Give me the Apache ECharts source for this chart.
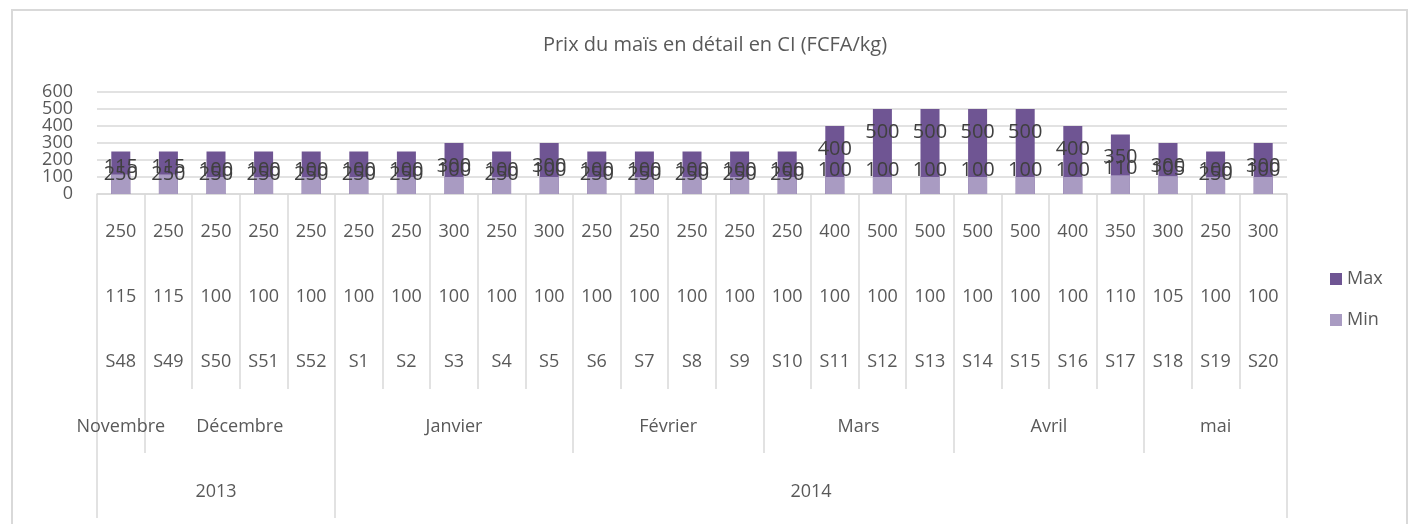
<!DOCTYPE html>
<html>
<head>
<meta charset="utf-8">
<script src="https://cdn.jsdelivr.net/npm/echarts@6/dist/echarts.min.js"></script>
<style>
  html, body { margin: 0; padding: 0; background: #fff; }
  #c { width: 1408px; height: 524px; }
</style>
</head>
<body>
<div id="c"></div>
<script>
const weeks = ['S48', 'S49', 'S50', 'S51', 'S52', 'S1', 'S2', 'S3', 'S4', 'S5', 'S6', 'S7', 'S8', 'S9', 'S10', 'S11', 'S12', 'S13', 'S14', 'S15', 'S16', 'S17', 'S18', 'S19', 'S20']
const maxValues = [250, 250, 250, 250, 250, 250, 250, 300, 250, 300, 250, 250, 250, 250, 250, 400, 500, 500, 500, 500, 400, 350, 300, 250, 300]
const minValues = [115, 115, 100, 100, 100, 100, 100, 100, 100, 100, 100, 100, 100, 100, 100, 100, 100, 100, 100, 100, 100, 110, 105, 100, 100]
const months = ['Novembre', 'Décembre', 'Janvier', 'Février', 'Mars', 'Avril', 'mai']
const monthWeeks = [1, 4, 5, 4, 4, 4, 3]
const years = ['2013', '2014']
const yearWeeks = [5, 20]

const textColor = '#595959'
const lineColor = '#d9d9d9'
const font = 'Open Sans'
const labelFont = "'Liberation Sans Narrow', 'Open Sans'"

// group axis on half-week slots: labels sit at group centres, ticks at group edges
function groupAxis(names, spans) {
  const slots = new Array(weeks.length * 2 + 1).fill('')
  const edges = new Set([0])
  let pos = 0
  names.forEach((n, i) => {
    slots[pos + spans[i]] = n
    pos += spans[i] * 2
    edges.add(pos)
  })
  return { slots, edges }
}
const monthAxis = groupAxis(months, monthWeeks)
const yearAxis = groupAxis(years, yearWeeks)

function groupXAxis(g, tickLen, margin) {
  return {
    type: 'category',
    position: 'bottom',
    boundaryGap: false,
    data: g.slots,
    axisLine: { show: false },
    axisTick: {
      show: true,
      length: tickLen,
      interval: (idx) => g.edges.has(idx),
      lineStyle: { color: lineColor, width: 1.5 },
    },
    axisLabel: {
      interval: 0,
      margin,
      color: textColor,
      fontSize: 18,
      fontFamily: font,
      lineHeight: 24,
      hideOverlap: false,
    },
  }
}

// the y labels are tightly packed; split them over two stacked axes so none get hidden
function yAxisPart(keepOdd, withGrid) {
  return {
    type: 'value',
    position: 'left',
    min: 0,
    max: 600,
    interval: 100,
    axisLine: { show: false },
    axisTick: { show: false },
    axisLabel: {
      color: textColor,
      fontSize: 18,
      fontFamily: font,
      margin: 24,
      showMinLabel: true,
      showMaxLabel: true,
      formatter: (v) => ((v / 100) % 2 === 1) === keepOdd ? String(v) : '',
    },
    splitLine: { show: withGrid, lineStyle: { color: lineColor, width: 1.5 } },
  }
}

const chart = echarts.init(document.getElementById('c'))
chart.setOption({
  animation: false,
  title: {
    text: 'Prix du maïs en détail en CI (FCFA/kg)',
    left: 710,
    textAlign: 'center',
    top: 30,
    textStyle: { color: textColor, fontSize: 20, fontWeight: 'normal', fontFamily: font },
  },
  graphic: [{
    type: 'rect',
    shape: { x: 12, y: 10, width: 1395, height: 600 },
    style: { fill: 'none', stroke: lineColor, lineWidth: 2 },
    silent: true,
  }],
  legend: {
    orient: 'vertical',
    left: 1325,
    top: 265,
    itemWidth: 12,
    itemHeight: 12,
    itemGap: 23,
    icon: 'rect',
    textStyle: { color: textColor, fontSize: 18, fontFamily: font },
    data: ['Max', 'Min'],
  },
  grid: { left: 97, right: 121, top: 92, bottom: 330, containLabel: false },
  xAxis: [
    {
      type: 'category',
      position: 'bottom',
      data: weeks,
      axisLine: { show: true, lineStyle: { color: lineColor, width: 1.5 } },
      axisTick: { show: true, length: 195, interval: 0, lineStyle: { color: lineColor, width: 1.5 } },
      axisLabel: {
        interval: 0,
        margin: 5,
        color: textColor,
        fontSize: 18,
        fontFamily: font,
        lineHeight: 65,
        formatter: (v, i) => `${maxValues[i]}\n${minValues[i]}\n${v}`,
      },
    },
    groupXAxis(monthAxis, 259, 221),
    groupXAxis(yearAxis, 324, 286),
  ],
  yAxis: [yAxisPart(false, true), yAxisPart(true, false)],
  series: [
    {
      name: 'Max',
      type: 'bar',
      data: maxValues,
      barWidth: 19,
      barGap: '-100%',
      itemStyle: { color: '#6f5593' },
      label: {
        show: true,
        position: 'insideTop',
        distance: 13,
        color: '#404040',
        fontSize: 20,
        fontFamily: labelFont,
      },
    },
    {
      name: 'Min',
      type: 'bar',
      data: minValues,
      barWidth: 19,
      barGap: '-100%',
      itemStyle: { color: '#a99bc2' },
      label: {
        show: true,
        position: 'top',
        distance: -3,
        color: '#404040',
        fontSize: 20,
        fontFamily: labelFont,
      },
    },
  ],
})
</script>
</body>
</html>
